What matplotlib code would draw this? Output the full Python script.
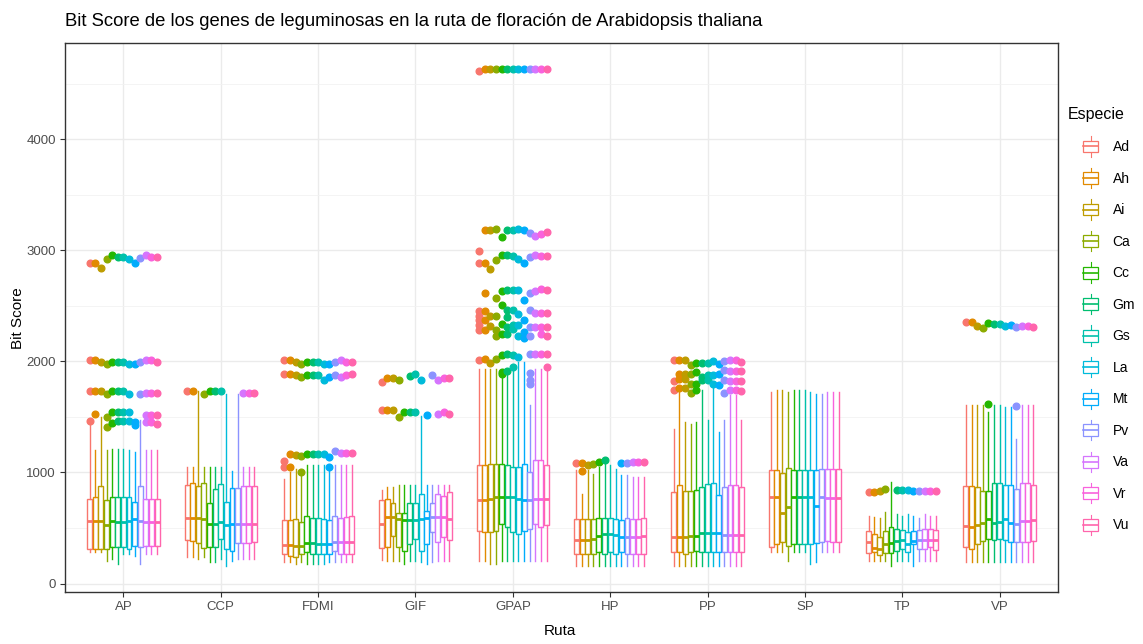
import matplotlib
matplotlib.use("Agg")
import matplotlib.pyplot as plt
import matplotlib.patches as mpatches
from matplotlib.lines import Line2D
from matplotlib.legend_handler import HandlerBase
from matplotlib.ticker import MultipleLocator

plt.rcParams['font.family'] = ['Liberation Sans', 'DejaVu Sans']

routes = ["AP", "CCP", "FDMI", "GIF", "GPAP", "HP", "PP", "SP", "TP", "VP"]
species = ["Ad", "Ah", "Ai", "Ca", "Cc", "Gm", "Gs", "La", "Mt", "Pv", "Va", "Vr", "Vu"]
colors = ["#F8766D", "#E18A00", "#BE9C00", "#8CAB00", "#24B700", "#00BE70", "#00C1AB",
          "#00BBDA", "#00ACFC", "#8B93FF", "#D575FE", "#F962DD", "#FF65AC"]

# rows = routes, columns = species
Q1 = [
    [312, 312, 312, 312, 327, 327, 327, 312, 342, 327, 342, 342, 342],
    [393, 387, 363, 321, 327, 327, 402, 312, 291, 363, 363, 363, 372],
    [267, 252, 243, 267, 282, 267, 267, 267, 267, 291, 267, 267, 267],
    [321, 330, 432, 327, 297, 357, 403, 297, 357, 462, 373, 418, 388],
    [477, 462, 462, 477, 538, 508, 462, 447, 477, 492, 538, 508, 523],
    [267, 267, 267, 267, 282, 267, 282, 267, 282, 267, 270, 267, 270],
    [282, 282, 267, 282, 297, 282, 282, 282, 282, 282, 282, 282, 282],
    [333, 357, 372, 342, 357, 357, 357, 357, 363, 372, 381, 372, 372],
    [274, 283, 253, 274, 274, 292, 313, 283, 358, 313, 313, 327, 303],
    [327, 312, 357, 380, 400, 390, 400, 390, 370, 375, 375, 375, 380],
]
MED = [
    [559, 559, 559, 523, 559, 553, 553, 565, 577, 565, 553, 553, 553],
    [592, 592, 592, 583, 532, 532, 553, 523, 538, 538, 538, 538, 538],
    [351, 351, 342, 342, 363, 363, 357, 357, 357, 372, 372, 372, 372],
    [537, 600, 598, 583, 568, 575, 575, 583, 590, 598, 598, 598, 583],
    [748, 748, 763, 778, 778, 778, 778, 763, 748, 748, 763, 763, 763],
    [393, 393, 393, 402, 432, 447, 447, 441, 423, 423, 423, 423, 432],
    [417, 423, 417, 432, 432, 453, 453, 453, 453, 441, 441, 441, 441],
    [778, 778, 634, 688, 778, 778, 778, 778, 694, 778, 772, 772, 772],
    [370, 322, 313, 358, 364, 382, 388, 358, 382, 394, 394, 388, 388],
    [514, 505, 530, 545, 580, 545, 555, 580, 545, 540, 562, 562, 572],
]
Q3 = [
    [763, 778, 874, 754, 778, 778, 778, 778, 733, 874, 763, 763, 763],
    [883, 904, 874, 904, 724, 853, 892, 733, 859, 859, 880, 880, 874],
    [568, 574, 583, 553, 604, 592, 592, 583, 568, 604, 592, 598, 604],
    [754, 760, 724, 634, 634, 724, 724, 802, 652, 724, 810, 784, 823],
    [1063, 1063, 1078, 1078, 1078, 1063, 1048, 1048, 1078, 1003, 1108, 1108, 1063],
    [583, 583, 583, 583, 592, 592, 592, 583, 574, 592, 583, 583, 592],
    [823, 883, 829, 829, 838, 868, 898, 904, 793, 868, 883, 883, 868],
    [1024, 1024, 994, 1042, 1024, 1024, 1024, 1024, 1024, 1033, 1033, 1033, 1033],
    [472, 442, 418, 472, 508, 493, 484, 463, 472, 484, 493, 493, 484],
    [874, 874, 868, 830, 830, 905, 905, 890, 890, 850, 905, 905, 890],
]
LO = [
    [282, 282, 282, 207, 222, 177, 267, 267, 252, 177, 267, 267, 267],
    [237, 237, 222, 237, 192, 192, 222, 162, 207, 222, 222, 222, 222],
    [192, 192, 177, 192, 177, 177, 177, 177, 192, 192, 192, 192, 192],
    [214, 207, 207, 207, 177, 207, 207, 192, 177, 192, 207, 207, 207],
    [207, 207, 177, 177, 207, 207, 207, 207, 207, 207, 207, 207, 207],
    [162, 162, 162, 162, 162, 162, 162, 162, 162, 162, 162, 162, 162],
    [162, 162, 162, 162, 162, 162, 162, 162, 162, 162, 162, 162, 162],
    [282, 282, 282, 207, 282, 282, 282, 177, 192, 282, 282, 282, 282],
    [207, 207, 207, 207, 162, 207, 207, 207, 162, 207, 207, 207, 207],
    [192, 192, 192, 192, 192, 192, 192, 192, 192, 192, 192, 192, 192],
]
HI = [
    [1440, 1198, 1500, 1198, 1213, 1213, 1213, 1198, 1183, 1468, 1198, 1198, 1198],
    [1048, 1048, 1730, 1048, 1048, 1048, 1048, 1709, 1010, 1709, 1048, 1048, 1048],
    [943, 1003, 1033, 1018, 1063, 1063, 1063, 1063, 1018, 1063, 1063, 1063, 1063],
    [844, 870, 870, 883, 883, 883, 883, 1504, 883, 883, 883, 883, 883],
    [1928, 1928, 1928, 1928, 1850, 1900, 1928, 1990, 1995, 1603, 1928, 1928, 1928],
    [1018, 808, 1018, 988, 1048, 1078, 1063, 1033, 973, 973, 958, 958, 958],
    [1393, 1720, 1453, 1438, 1453, 1739, 1468, 1760, 1363, 1468, 1700, 1700, 1468],
    [1724, 1739, 1739, 1724, 1739, 1739, 1739, 1724, 1709, 1709, 1724, 1724, 1724],
    [612, 600, 590, 640, 913, 630, 612, 625, 612, 590, 625, 612, 612],
    [1604, 1604, 1604, 1604, 1540, 1604, 1604, 1590, 1590, 1303, 1604, 1604, 1604],
]

out_AP = {"Ad": [2883, 2009, 1733, 1460], "Ah": [2883, 2009, 1733, 1523], "Ai": [2838, 1994, 1733],
          "Ca": [2919, 1973, 1709, 1495, 1405], "Cc": [2955, 1994, 1733, 1541, 1444],
          "Gm": [2937, 1994, 1733, 1541, 1460], "Gs": [2937, 1994, 1733, 1541, 1460],
          "La": [2919, 1973, 1703, 1541, 1460], "Mt": [2883, 1973, 1453, 1423],
          "Pv": [2930, 1994, 1709], "Va": [2955, 2009, 1718, 1514, 1453],
          "Vr": [2937, 2009, 1718, 1514, 1453], "Vu": [2937, 1994, 1718, 1514, 1438]}
out_CCP = {"Ad": [1733], "Ah": [1733], "Ca": [1709], "Cc": [1733], "Gm": [1733], "Gs": [1733],
           "Va": [1718], "Vr": [1718], "Vu": [1718]}
out_FDMI = {"Ad": [2009, 1889, 1102, 1048], "Ah": [2009, 1889, 1168, 1048], "Ai": [1994, 1880, 1160],
            "Ca": [1973, 1862, 1150, 1003], "Cc": [1994, 1880, 1168], "Gm": [1994, 1880, 1168],
            "Gs": [1994, 1880, 1168], "La": [1973, 1829, 1168], "Mt": [1979, 1859, 1138, 1048],
            "Pv": [1994, 1880, 1190], "Va": [2009, 1862, 1172], "Vr": [1994, 1874, 1172],
            "Vu": [1994, 1889, 1172]}
out_GIF = {"Ad": [1814, 1565], "Ah": [1850, 1565], "Ai": [1850, 1565], "Ca": [1835, 1499],
           "Cc": [1544], "Gm": [1870, 1544], "Gs": [1889, 1544], "La": [1829], "Mt": [1514],
           "Pv": [1880], "Va": [1835, 1529], "Vr": [1850, 1540], "Vu": [1850, 1529]}
out_GPAP = {"Ad": [4610, 2994, 2885, 2453, 2410, 2369, 2325, 2279, 2009],
            "Ah": [4627, 3186, 2885, 2616, 2453, 2369, 2279, 2024],
            "Ai": [4627, 3186, 2831, 2410, 2320, 1985],
            "Ca": [4627, 3190, 2915, 2574, 2410, 2279, 2230, 2024],
            "Cc": [4627, 3115, 2954, 2633, 2504, 2340, 2250, 2054, 1904, 1890],
            "Gm": [4627, 3186, 2954, 2640, 2465, 2400, 2310, 2250, 2063, 1910],
            "Gs": [4627, 3186, 2945, 2640, 2465, 2330, 2290, 2054, 1945],
            "La": [4627, 3190, 2924, 2640, 2425, 2330, 2225, 2039],
            "Mt": [4627, 3186, 2885, 2556, 2375, 2260, 2210],
            "Pv": [4627, 3156, 2936, 2616, 2465, 2310, 2230, 2063, 1895, 1830, 1800],
            "Va": [4627, 3126, 2954, 2633, 2435, 2310, 2063],
            "Vr": [4627, 3150, 2945, 2655, 2435, 2310, 2250, 2063],
            "Vu": [4627, 3165, 2945, 2640, 2435, 2310, 2230, 2063, 1945]}
out_HP = {"Ad": [1085], "Ah": [1085, 1010], "Ai": [1070], "Ca": [1080], "Cc": [1095], "Gm": [1110],
          "Mt": [1085], "Pv": [1085], "Va": [1090], "Vr": [1090], "Vu": [1090]}
out_PP = {"Ad": [2009, 1823, 1739], "Ah": [2009, 1889, 1844, 1763], "Ai": [2009, 1889, 1844, 1763],
          "Ca": [1964, 1883, 1793, 1718], "Cc": [1985, 1904, 1793, 1739], "Gm": [1985, 1859, 1829],
          "Gs": [1985, 1874, 1829], "La": [2000, 1874, 1793], "Mt": [1979, 1883, 1790],
          "Pv": [2000, 1919, 1829, 1718], "Va": [2009, 1913, 1823, 1739],
          "Vr": [2009, 1913, 1823, 1739], "Vu": [1994, 1913, 1823, 1733]}
out_SP = {}
out_TP = {"Ad": [823], "Ah": [823], "Ai": [832], "Ca": [850], "Gm": [845], "Gs": [845], "La": [840],
          "Mt": [832], "Pv": [832], "Va": [832], "Vr": [832], "Vu": [832]}
out_VP = {"Ad": [2351], "Ah": [2351], "Ai": [2315], "Ca": [2297], "Cc": [2342, 1612], "Gm": [2333],
          "Gs": [2333], "La": [2315], "Mt": [2324], "Pv": [2306, 1595], "Va": [2315], "Vr": [2315],
          "Vu": [2306]}
OUTLIERS = [out_AP, out_CCP, out_FDMI, out_GIF, out_GPAP, out_HP, out_PP, out_SP, out_TP, out_VP]

W, H = 1143, 644
fig = plt.figure(figsize=(W / 100, H / 100), dpi=100)
ax = fig.add_axes([65 / W, 1 - 592 / H, (1058 - 65) / W, (592 - 43) / H])

n = len(species)
dodge = 0.75
slot = dodge / n
for j, sp in enumerate(species):
    c = colors[j]
    stats, pos = [], []
    for i, r in enumerate(routes):
        stats.append(dict(q1=Q1[i][j], med=MED[i][j], q3=Q3[i][j],
                          whislo=LO[i][j], whishi=HI[i][j],
                          fliers=OUTLIERS[i].get(sp, [])))
        pos.append(i + 1 - dodge / 2 + (j + 0.5) * slot)
    ax.bxp(stats, positions=pos, widths=slot * 0.88, showcaps=False, patch_artist=True,
           manage_ticks=False,
           boxprops=dict(facecolor="white", edgecolor=c, linewidth=1.0),
           medianprops=dict(color=c, linewidth=2.0, solid_capstyle="butt"),
           whiskerprops=dict(color=c, linewidth=1.0),
           flierprops=dict(marker="o", markerfacecolor=c, markeredgecolor=c,
                           markersize=4.8, linestyle="none"))

ax.set_xlim(0.4, len(routes) + 0.6)
ax.set_ylim(-76, 4865)
ax.set_xticks(range(1, len(routes) + 1))
ax.set_xticklabels(routes)
ax.yaxis.set_major_locator(MultipleLocator(1000))
ax.yaxis.set_minor_locator(MultipleLocator(500))
ax.set_axisbelow(True)
ax.grid(which="major", color="#EBEBEB", linewidth=1.0)
ax.grid(which="minor", axis="y", color="#F2F2F2", linewidth=0.6)
ax.tick_params(which="major", length=3.5, width=0.8, color="#333333",
               labelsize=9.5, labelcolor="#4D4D4D", pad=3)
ax.tick_params(which="minor", length=0)
for s in ax.spines.values():
    s.set_color("#333333")
    s.set_linewidth(1.0)

fig.text(65 / W, 1 - 21 / H, "Bit Score de los genes de leguminosas en la ruta de floración de Arabidopsis thaliana",
         ha="left", va="center", fontsize=13.3, color="black")
fig.text(560 / W, 1 - 631 / H, "Ruta", ha="center", va="center", fontsize=11)
fig.text(18 / W, 1 - 318 / H, "Bit Score", ha="center", va="center", rotation=90, fontsize=11)
fig.text(1068 / W, 1 - 115 / H, "Especie", ha="left", va="center", fontsize=11.5)


class BoxHandler(HandlerBase):
    def create_artists(self, legend, orig_handle, xdescent, ydescent, width, height, fontsize, trans):
        c = orig_handle.get_edgecolor()
        x0, y0 = -xdescent, -ydescent
        xm = x0 + width / 2
        wl = Line2D([xm, xm], [y0 - 0.1 * height, y0 + 1.1 * height], color=c, lw=0.8, transform=trans)
        box = mpatches.Rectangle((x0 + 0.05 * width, y0 + 0.15 * height), 0.9 * width, 0.7 * height,
                                 facecolor="white", edgecolor=c, lw=0.9, transform=trans)
        md = Line2D([x0 + 0.05 * width, x0 + 0.95 * width], [y0 + 0.5 * height] * 2, color=c, lw=1.2,
                    transform=trans)
        return [wl, box, md]


handles = [mpatches.Patch(edgecolor=colors[j], facecolor="white", label=sp) for j, sp in enumerate(species)]
leg = fig.legend(handles=handles, loc="upper left", bbox_to_anchor=(1082 / W, 1 - 138 / H),
                 frameon=False, fontsize=10, borderaxespad=0, borderpad=0,
                 handler_map={mpatches.Patch: BoxHandler()},
                 handlelength=1.25, handleheight=1.5, labelspacing=1.05, handletextpad=0.95)

fig.savefig("out.png", dpi=100)
